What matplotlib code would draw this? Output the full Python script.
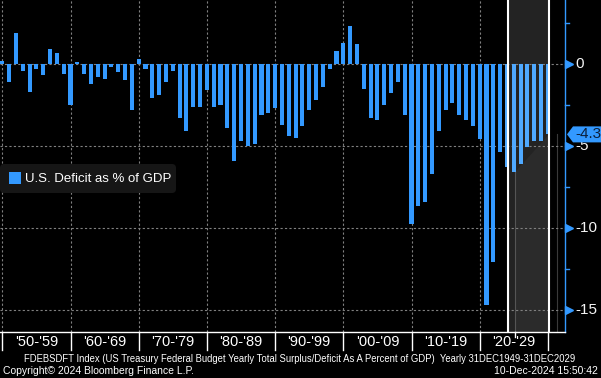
import matplotlib
matplotlib.use('Agg')
import matplotlib.pyplot as plt
from matplotlib.patches import Polygon, FancyBboxPatch, Rectangle
from matplotlib.lines import Line2D
import matplotlib.transforms as mtransforms

# ---------------- data ----------------
years = list(range(1949, 2030))
deficit = [
    0.2, -1.1, 1.9, -0.4, -1.7, -0.3, -0.7, 0.9, 0.7, -0.6,        # 1949-1958
    -2.5, 0.1, -0.6, -1.2, -0.8, -0.9, -0.2, -0.5, -1.0, -2.8,     # 1959-1968
    0.3, -0.3, -2.1, -1.9, -1.1, -0.4, -3.3, -4.1, -2.6, -2.6,     # 1969-1978
    -1.6, -2.6, -2.5, -3.9, -5.9, -4.7, -5.0, -4.9, -3.1, -3.0,    # 1979-1988
    -2.7, -3.7, -4.4, -4.5, -3.8, -2.8, -2.2, -1.4, -0.3, 0.8,     # 1989-1998
    1.3, 2.3, 1.2, -1.5, -3.3, -3.4, -2.5, -1.8, -1.1, -3.1,       # 1999-2008
    -9.8, -8.7, -8.4, -6.7, -4.1, -2.8, -2.4, -3.1, -3.4, -3.8,    # 2009-2018
    -4.6, -14.7, -12.1, -5.4, -6.3, -6.6, -6.1, -5.1, -4.7, -4.7,  # 2019-2028
    -4.3,                                                           # 2029
]
decade_labels = ["'50-'59", "'60-'69", "'70-'79", "'80-'89", "'90-'99",
                 "'00-'09", "'10-'19", "'20-'29"]
decade_bounds = [1949, 1959, 1969, 1979, 1989, 1999, 2009, 2019, 2029]
major_ticks = [0, -5, -10, -15]
minor_ticks = [2.5, -2.5, -7.5, -12.5]
last_value = -4.3
last_label = "-4.3"
shade_start, shade_end = 2023.1, 2029.15
diag_start = (2024.2, -6.6)
series_name = "U.S. Deficit as % of GDP"
footer1 = ("FDEBSDFT Index (US Treasury Federal Budget Yearly Total Surplus/Deficit "
           "As A Percent of GDP)  Yearly 31DEC1949-31DEC2029")
footer2_left = "Copyright\u00a9 2024 Bloomberg Finance L.P."
footer2_right = "10-Dec-2024 15:50:42"

# ---------------- layout ----------------
W, H = 601, 378
FONT = 'Liberation Sans'
BLUE = '#3399ff'
BLUE_LIGHT = '#4fa9ff'
plt.rcParams['font.family'] = [FONT, 'DejaVu Sans']

fig = plt.figure(figsize=(W / 100, H / 100), dpi=100, facecolor='black')
ax_right_px, ax_bottom_px = 565, 332
ax = fig.add_axes([0, (H - ax_bottom_px) / H, ax_right_px / W, ax_bottom_px / H])
ax.set_facecolor('black')

ppy = 6.82          # pixels per year
x_first_px = 2.3
xl = years[0] - x_first_px / ppy
xr = xl + ax_right_px / ppy
zero_px, ppu = 64, 16.37
yt = zero_px / ppu
yb = -(ax_bottom_px - zero_px) / ppu
ax.set_xlim(xl, xr)
ax.set_ylim(yb, yt)

def fy(py):
    return 1 - py / H

# shading of forecast region
ax.axvspan(shade_start, shade_end, color='#232323', zorder=0.5, lw=0)
ax.add_patch(Polygon([diag_start, (shade_end, last_value), (shade_end, yb),
                      (diag_start[0], yb)], closed=True, facecolor='#2b2b2b',
                     edgecolor='none', zorder=0.6))
ax.plot([2024.2, 2024.2], [yb, 0], color='#555555', lw=0.8, zorder=1)
ax.plot([2030.3, 2030.3], [yb, last_value], color='#3a3a3a', lw=0.8, zorder=1)

# grid
for y in major_ticks:
    ax.axhline(y, color='#808080', lw=0.8, ls=(0, (2, 2)), zorder=1)
for x in decade_bounds[:-1]:
    ax.axvline(x, color='#808080', lw=0.8, ls=(0, (2, 2)), zorder=1)

# bars
colors = [BLUE_LIGHT if yr >= 2023 else BLUE for yr in years]
ax.bar(years, deficit, width=0.6, color=colors, zorder=3, lw=0)

# white markers
ax.axvline(shade_start, color='white', lw=1.5, zorder=4)
ax.axvline(shade_end, color='white', lw=1.5, zorder=4)

# spines
for s in ['top', 'left']:
    ax.spines[s].set_visible(False)
ax.spines['right'].set_color(BLUE)
ax.spines['right'].set_linewidth(1)
ax.spines['bottom'].set_color('white')
ax.spines['bottom'].set_linewidth(1)
ax.set_xticks([])
ax.set_yticks([])

# right axis ticks
ytr = ax.get_yaxis_transform()
for y in major_ticks:
    ax.plot([xr + 4 / ppy], [y], marker='>', ms=6, color=BLUE, clip_on=False,
            zorder=5, ls='none')
    ax.text(575 / ax_right_px, y, str(y), transform=ytr, ha='left', va='center',
            fontsize=11, color='#f5f5f5', clip_on=False)
for y in minor_ticks:
    ax.plot([xr, xr + 4 / ppy], [y, y], color=BLUE, lw=1, clip_on=False, zorder=5)

# last value badge
btr = mtransforms.blended_transform_factory(fig.transFigure, ax.transData)
hh = 8 / ppu
badge = Polygon([(567 / W, last_value), (573 / W, last_value + hh), (1.0, last_value + hh),
                 (1.0, last_value - hh), (573 / W, last_value - hh)],
                closed=True, transform=btr, facecolor=BLUE, edgecolor='none',
                clip_on=False, zorder=6)
fig.add_artist(badge)
bt = fig.text(575 / W, last_value, last_label, fontsize=11, color='#0b1f3a',
              ha='left', va='center', zorder=7)
bt.set_transform(btr)

# legend
ident = mtransforms.IdentityTransform()
lg = FancyBboxPatch((0, H - 193), 176, 29, boxstyle='round,pad=0,rounding_size=4',
                    transform=ident, facecolor='#161616', edgecolor='none')
fig.add_artist(lg)
fig.add_artist(Rectangle((9, H - 184), 12, 12, transform=ident, facecolor=BLUE,
                         edgecolor='none'))
fig.text(25 / W, fy(179), series_name, fontsize=9.5, color='white', ha='left',
         va='center')

# bottom decade axis
xtr = mtransforms.blended_transform_factory(ax.transData, fig.transFigure)
for x in decade_bounds:
    fig.add_artist(Line2D([x, x], [fy(332), fy(350)], transform=xtr, color='white', lw=1))
fig.add_artist(Line2D([2024.2, 2024.2], [fy(332), fy(337)], transform=xtr,
                      color='white', lw=1))
for i, lab in enumerate(decade_labels):
    xc = (decade_bounds[i] + decade_bounds[i + 1]) / 2
    fig.text(xc, fy(342), lab, transform=xtr, ha='center', va='center',
             fontsize=10.5, color='white')

# footers
t1 = fig.text(300 / W, fy(359), footer1, ha='center', va='center', fontsize=7,
              color='white')
fig.canvas.draw()
w = t1.get_window_extent().width
t1.set_fontsize(7 * 553 / w)
fig.text(3 / W, fy(371), footer2_left, ha='left', va='center', fontsize=7.5,
         color='white')
fig.text(598 / W, fy(371), footer2_right, ha='right', va='center', fontsize=7.5,
         color='white')

fig.savefig('out.png', dpi=100, facecolor='black')
